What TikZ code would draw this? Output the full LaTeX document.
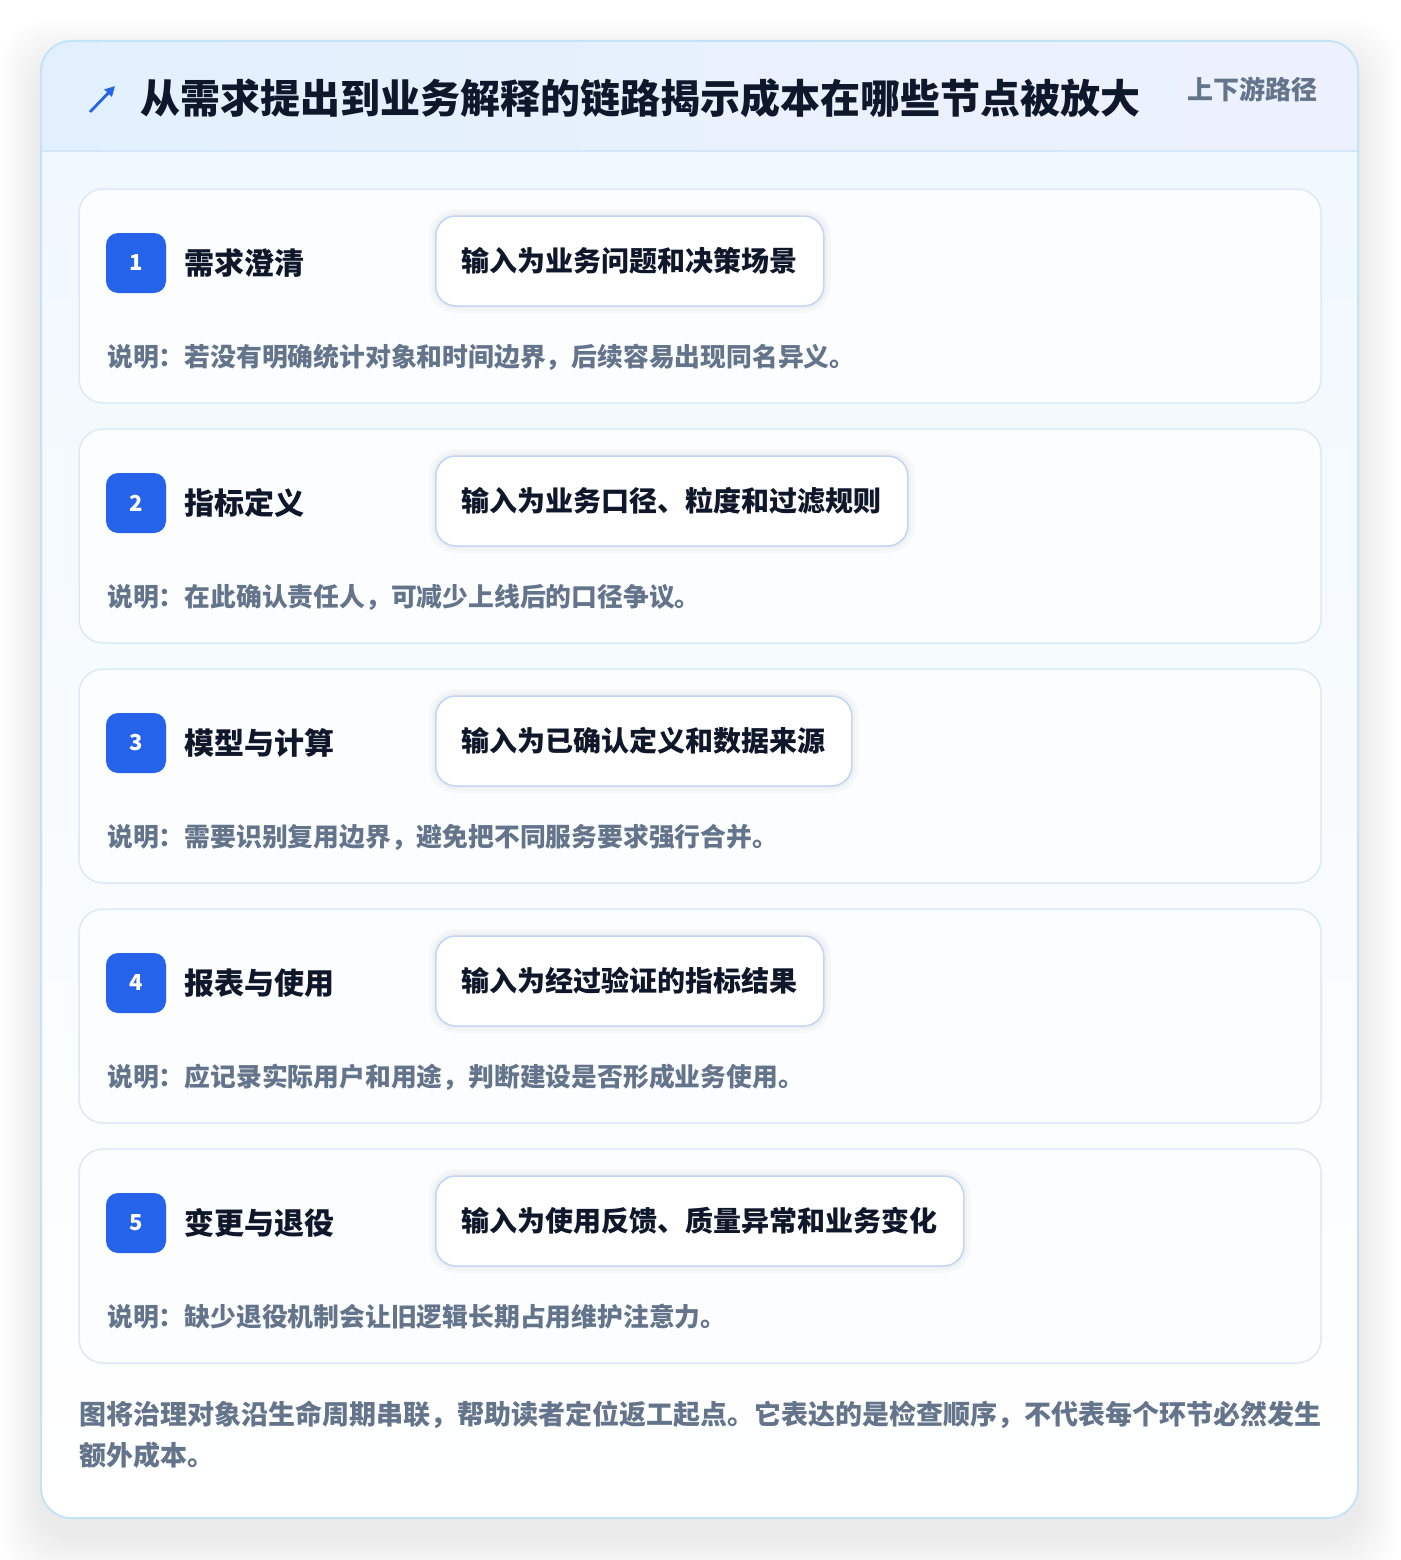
\documentclass[tikz,border=0pt]{standalone}
\usepackage{fontspec}
\setmainfont{Noto Sans CJK SC}
\usetikzlibrary{arrows.meta}

\definecolor{panelline}{HTML}{C5E3F6}
\definecolor{headleft}{HTML}{E2F0FD}
\definecolor{headright}{HTML}{EDF1FD}
\definecolor{headrule}{HTML}{D3E7F8}
\definecolor{bodytop}{HTML}{F1F8FE}
\definecolor{cardline}{HTML}{DCEAF8}
\definecolor{cardfill}{HTML}{FBFDFF}
\definecolor{boxline}{HTML}{BFD5F3}
\definecolor{badgeblue}{HTML}{2563EB}
\definecolor{inkdark}{HTML}{0F172A}
\definecolor{inkgray}{HTML}{64748B}

\tikzset{
  card/.style = {draw = cardline, line width = 1.5pt, fill = cardfill, rounded corners = 24pt},
  badge/.style = {fill = badgeblue, text = white, rounded corners = 12pt, minimum size = 60pt,
                  inner sep = 0pt, font = \fontsize{22}{26}\selectfont\bfseries},
  stepname/.style = {anchor = west, inner sep = 0pt, text = inkdark, font = \fontsize{30}{36}\selectfont\bfseries},
  inputbox/.style = {anchor = west, draw = boxline, line width = 1.5pt, fill = white, rounded corners = 20pt,
                     minimum height = 90pt, inner xsep = 26pt, text = inkdark,
                     font = \fontsize{28}{34}\selectfont\bfseries,
                     preaction = {draw = black, draw opacity = 0.025, line width = 14pt},
                     preaction = {draw = black, draw opacity = 0.025, line width = 7pt}},
  note/.style = {anchor = west, inner sep = 0pt, text = inkgray, font = \fontsize{25.8}{31}\selectfont\bfseries}
}

\begin{document}
\begin{tikzpicture}[x = 1pt, y = -1pt]
\useasboundingbox (0,0) rectangle (1400,1560);
\fill[white] (0,0) rectangle (1400,1560);
% Soft shadow under the panel
\foreach \r in {2,4,...,40}
  \fill[black, opacity = 0.005, rounded corners = 40pt] (41-\r,61-\r) rectangle (1358+\r,1538+\r);
% Outer panel
\begin{scope}
\clip[rounded corners = 30pt] (41,41) rectangle (1358,1518);
\fill[white] (41,41) rectangle (1358,1518);
\shade[top color = bodytop, bottom color = white] (41,151) rectangle (1358,1518);
\shade[left color = headleft, right color = headright] (41,41) rectangle (1358,151);
\draw[headrule, line width = 1.5pt] (41,151) -- (1358,151);
\end{scope}
\draw[panelline, line width = 2pt, rounded corners = 30pt] (41,41) rectangle (1358,1518);
% Header
\draw[badgeblue, line width = 2.8pt, -{Triangle[length = 10pt, width = 10pt]}] (90,112) -- (115,86);
\node[anchor = west, inner sep = 0pt, text = inkdark, font = \fontsize{40}{48}\selectfont\bfseries] (title) at (140,98)
  {从需求提出到业务解释的链路揭示成本在哪些节点被放大};
\node[anchor = east, inner sep = 0pt, text = inkgray, font = \fontsize{26}{32}\selectfont\bfseries] (tag) at (1318,89)
  {上下游路径};
%Step 1
\begin{scope} [shift = {(0,189)}]
\draw[card] (79,0) rectangle (1321,214);
\node[badge] (badge1) at (136,74) {1};
\node[stepname] (name1) at (184,74) {需求澄清};
\node[inputbox] (input1) at (435,72) {输入为业务问题和决策场景};
\node[note] (note1) at (107,168) {说明：若没有明确统计对象和时间边界，后续容易出现同名异义。};
\end{scope}
%Step 2
\begin{scope} [shift = {(0,429)}]
\draw[card] (79,0) rectangle (1321,214);
\node[badge] (badge2) at (136,74) {2};
\node[stepname] (name2) at (184,74) {指标定义};
\node[inputbox] (input2) at (435,72) {输入为业务口径、粒度和过滤规则};
\node[note] (note2) at (107,168) {说明：在此确认责任人，可减少上线后的口径争议。};
\end{scope}
%Step 3
\begin{scope} [shift = {(0,669)}]
\draw[card] (79,0) rectangle (1321,214);
\node[badge] (badge3) at (136,74) {3};
\node[stepname] (name3) at (184,74) {模型与计算};
\node[inputbox] (input3) at (435,72) {输入为已确认定义和数据来源};
\node[note] (note3) at (107,168) {说明：需要识别复用边界，避免把不同服务要求强行合并。};
\end{scope}
%Step 4
\begin{scope} [shift = {(0,909)}]
\draw[card] (79,0) rectangle (1321,214);
\node[badge] (badge4) at (136,74) {4};
\node[stepname] (name4) at (184,74) {报表与使用};
\node[inputbox] (input4) at (435,72) {输入为经过验证的指标结果};
\node[note] (note4) at (107,168) {说明：应记录实际用户和用途，判断建设是否形成业务使用。};
\end{scope}
%Step 5
\begin{scope} [shift = {(0,1149)}]
\draw[card] (79,0) rectangle (1321,214);
\node[badge] (badge5) at (136,74) {5};
\node[stepname] (name5) at (184,74) {变更与退役};
\node[inputbox] (input5) at (435,72) {输入为使用反馈、质量异常和业务变化};
\node[note] (note5) at (107,168) {说明：缺少退役机制会让旧逻辑长期占用维护注意力。};
\end{scope}
% Footer
\node[anchor = north west, inner sep = 0pt, align = left, text = inkgray,
      font = \fontsize{27}{41}\selectfont\bfseries] (footer) at (79,1401)
  {图将治理对象沿生命周期串联，帮助读者定位返工起点。它表达的是检查顺序，不代表每个环节必然发生\\额外成本。};
\end{tikzpicture}
\end{document}
